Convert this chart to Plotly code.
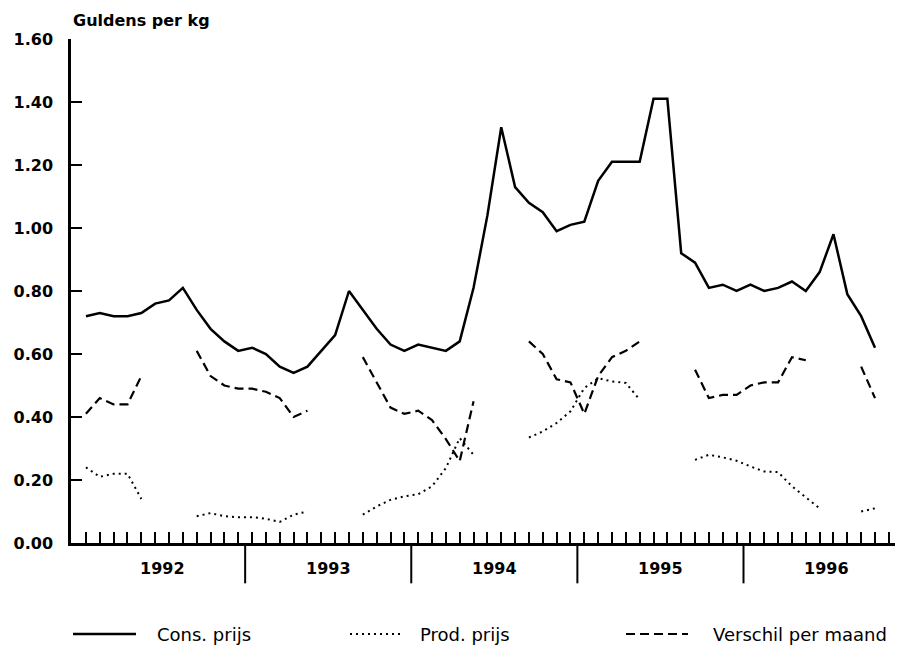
import plotly.graph_objects as go

# months Jan 1992 .. Dec 1996 (index 0..59)
months = list(range(60))
years = ["1992", "1993", "1994", "1995", "1996"]
y_ticks = [0.0, 0.2, 0.4, 0.6, 0.8, 1.0, 1.2, 1.4, 1.6]

cons_prijs = [0.72, 0.73, 0.72, 0.72, 0.73, 0.76, 0.77, 0.81, 0.74, 0.68, 0.64, 0.61,
              0.62, 0.60, 0.56, 0.54, 0.56, 0.61, 0.66, 0.80, 0.74, 0.68, 0.63, 0.61,
              0.63, 0.62, 0.61, 0.64, 0.81, 1.04, 1.32, 1.13, 1.08, 1.05, 0.99, 1.01,
              1.02, 1.15, 1.21, 1.21, 1.21, 1.41, 1.41, 0.92, 0.89, 0.81, 0.82, 0.80,
              0.82, 0.80, 0.81, 0.83, 0.80, 0.86, 0.98, 0.79, 0.72, 0.62, None, None]

prod_prijs = [0.24, 0.21, 0.22, 0.22, 0.14, None, None, None, 0.085, 0.095, 0.085, 0.082,
              0.082, 0.077, 0.067, 0.09, 0.10, None, None, None, 0.09, 0.116, 0.137, 0.148,
              0.155, 0.18, 0.238, 0.333, 0.28, None, None, None, 0.335, 0.354, 0.381, 0.418,
              0.492, 0.523, 0.513, 0.508, 0.455, None, None, None, 0.264, 0.28, 0.272, 0.261,
              0.243, 0.227, 0.225, 0.18, 0.145, 0.11, None, None, 0.10, 0.11, None, None]

verschil = [0.41, 0.46, 0.44, 0.44, 0.53, None, None, None, 0.61, 0.53, 0.50, 0.49,
            0.49, 0.48, 0.46, 0.40, 0.42, None, None, None, 0.59, 0.51, 0.43, 0.41,
            0.42, 0.39, 0.33, 0.26, 0.45, None, None, None, 0.64, 0.60, 0.52, 0.51,
            0.41, 0.53, 0.59, 0.61, 0.64, None, None, None, 0.55, 0.46, 0.47, 0.47,
            0.50, 0.51, 0.51, 0.59, 0.58, None, None, None, 0.56, 0.46, None, None]

FONT = "DejaVu Sans"

fig = go.Figure()

# Cons. prijs
fig.add_trace(go.Scatter(x=months, y=cons_prijs, mode="lines",
                         line=dict(color="black", width=2.5), connectgaps=False))
# Prod. prijs
fig.add_trace(go.Scatter(x=months, y=prod_prijs, mode="lines",
                         line=dict(color="black", width=2, dash="2px,4px"), connectgaps=False))
# Verschil per maand
fig.add_trace(go.Scatter(x=months, y=verschil, mode="lines",
                         line=dict(color="black", width=2.2, dash="9px,5px"), connectgaps=False))

# year separators below the axis
for k in range(1, len(years)):
    xs = 12 * k - 0.5
    fig.add_shape(type="line", xref="x", yref="paper", x0=xs, x1=xs, y0=0, y1=-0.08,
                  line=dict(color="black", width=2))

# year labels
for k, yr in enumerate(years):
    fig.add_annotation(x=12 * k + 5.5, y=-0.073, xref="x", yref="paper", text=yr,
                       showarrow=False, font=dict(family=FONT, size=16, color="black", weight="bold"))

# axis title
fig.add_annotation(x=0, y=1.036, xref="paper", yref="paper", xanchor="left", yanchor="middle",
                   text="Guldens per kg", showarrow=False,
                   font=dict(family=FONT, size=16, color="black", weight="bold"))

# legend drawn by hand
W, PL, PB, PH = 840, 63, 535, 504
def px(x):
    return (x - PL) / W
ly = (PB - 626) / PH
legend_items = [
    ("Cons. prijs", 65, 128, 147, None, 2.5),
    ("Prod. prijs", 342, 392, 410, "2px,4px", 2),
    ("Verschil per maand", 618, 680, 703, "9px,5px", 2.2),
]
for label, x0, x1, xt, dash, w in legend_items:
    fig.add_shape(type="line", xref="paper", yref="paper", x0=px(x0), x1=px(x1), y0=ly, y1=ly,
                  line=dict(color="black", width=w, dash=dash))
    fig.add_annotation(x=px(xt), y=ly, xref="paper", yref="paper", xanchor="left", yanchor="middle",
                       text=label, showarrow=False,
                       font=dict(family=FONT, size=18, color="black"))

fig.update_xaxes(range=[-1.08, 59.6], showgrid=False, zeroline=False,
                 showline=True, linecolor="black", linewidth=2.5,
                 ticks="inside", tickvals=months, ticklen=11, tickwidth=2, tickcolor="black",
                 showticklabels=False)
fig.update_yaxes(range=[0, 1.6], showgrid=False, zeroline=False,
                 showline=True, linecolor="black", linewidth=2.5,
                 ticks="inside", tickvals=y_ticks, ticktext=[f"{v:.2f}" for v in y_ticks],
                 ticklen=11, tickwidth=2, tickcolor="black", ticklabelstandoff=12,
                 tickfont=dict(family=FONT, size=16, color="black", weight="bold"))

fig.update_layout(width=903, height=645, showlegend=False,
                  plot_bgcolor="white", paper_bgcolor="white",
                  margin=dict(l=63, r=0, t=31, b=110),
                  font=dict(family=FONT, color="black"))

fig.write_html("out.html")
